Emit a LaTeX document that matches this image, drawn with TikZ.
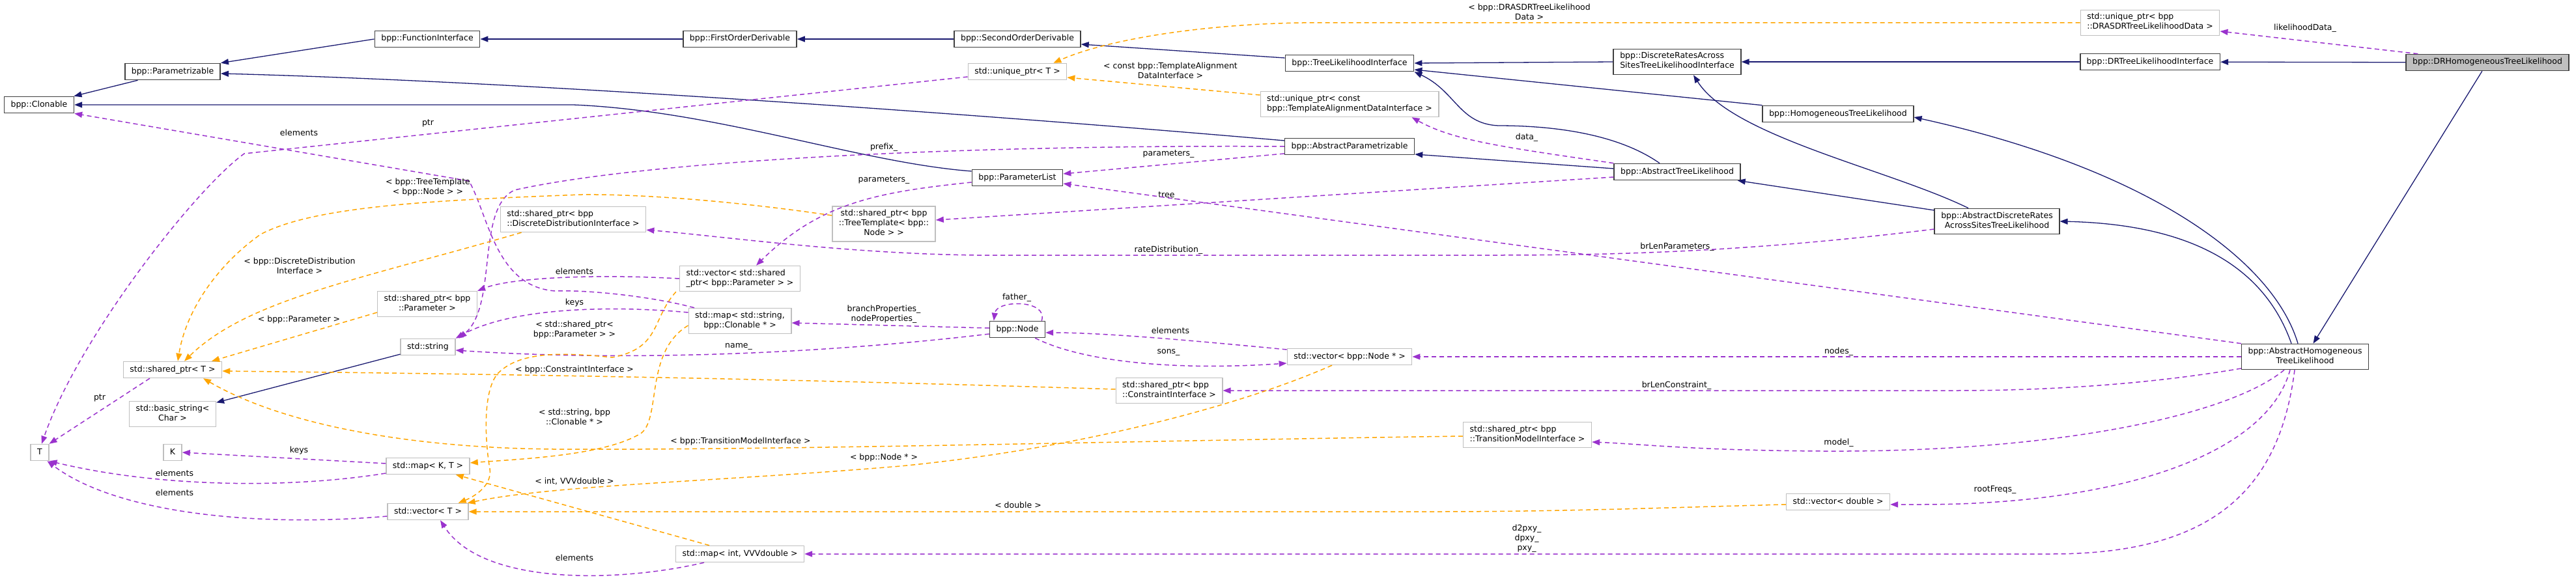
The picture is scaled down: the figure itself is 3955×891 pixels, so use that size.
\documentclass[tikz,border=0pt]{standalone}
\usepackage{fontspec}
\setmainfont{DejaVu Sans}
\usepackage{xcolor}
\usepackage{tikz}
\usetikzlibrary{arrows.meta}
\definecolor{inhcol}{HTML}{191970}
\definecolor{usecol}{HTML}{9A32CD}
\definecolor{tplcol}{HTML}{FFA500}
\definecolor{tplline}{HTML}{BFBFBF}
\definecolor{clsline}{HTML}{404040}
\tikzset{
  cls/.style={rectangle, draw=clsline, line width=1.6pt, fill=white, inner xsep=10pt, inner ysep=5pt, align=center, execute at begin node=\strut, execute at end node=\strut},
  tpl/.style={cls, draw=tplline, line width=1.4pt},
  tplleft/.style={tpl, align=left},
  focus/.style={cls, fill=tplline},
  inherit/.style={-{Triangle[length=12pt, width=9pt]}, draw=inhcol, line width=1.3pt},
  usage/.style={-{Triangle[length=12pt, width=9pt]}, draw=usecol, line width=1.5pt, dash pattern=on 7pt off 5pt},
  tmplarg/.style={usage, draw=tplcol},
  lbl/.style={inner sep=0pt, align=center},
}

\begin{document}
\begin{tikzpicture}[x=1pt, y=-1pt, font=\fontsize{12.5}{15}\selectfont]
    \useasboundingbox (0,0) rectangle (3955,891);
    % classes
    \node[cls] (clonable) at (60,161) {bpp::Clonable};
    \node[cls] (parametrizable) at (265,110) {bpp::Parametrizable};
    \node[cls] (funcif) at (656,60) {bpp::FunctionInterface};
    \node[cls] (firstder) at (1136,60) {bpp::FirstOrderDerivable};
    \node[cls] (secondder) at (1562,60) {bpp::SecondOrderDerivable};
    \node[cls] (tlif) at (2072,97) {bpp::TreeLikelihoodInterface};
    \node[cls] (absparam) at (2072,225) {bpp::AbstractParametrizable};
    \node[cls] (paramlist) at (1562,273) {bpp::ParameterList};
    \node[cls, align=left] (drasif) at (2575,95) {bpp::DiscreteRatesAcross\\SitesTreeLikelihoodInterface};
    \node[cls] (homtl) at (2822,175) {bpp::HomogeneousTreeLikelihood};
    \node[cls] (abstl) at (2575,264) {bpp::AbstractTreeLikelihood};
    \node[cls] (absdras) at (3066,340) {bpp::AbstractDiscreteRates\\AcrossSitesTreeLikelihood};
    \node[cls] (drtlif) at (3301,95) {bpp::DRTreeLikelihoodInterface};
    \node[focus] (drhom) at (3819,96) {bpp::DRHomogeneousTreeLikelihood};
    \node[cls] (abshom) at (3539,548) {bpp::AbstractHomogeneous\\TreeLikelihood};
    \node[cls] (bppnode) at (1562,506) {bpp::Node};
    % templates
    \node[tpl] (uniqT) at (1562,110) {std::unique\_ptr< T >};
    \node[tplleft] (uniqdata) at (2072,160) {std::unique\_ptr< const\\bpp::TemplateAlignmentDataInterface >};
    \node[tplleft] (drasdrptr) at (3301,35) {std::unique\_ptr< bpp\\::DRASDRTreeLikelihoodData >};
    \node[tpl] (treeptr) at (1357,344) {std::shared\_ptr< bpp\\::TreeTemplate< bpp::\\Node > >};
    \node[tplleft] (vecparam) at (1136,428) {std::vector< std::shared\\\_ptr< bpp::Parameter > >};
    \node[tpl] (mapclon) at (1136,493) {std::map< std::string,\\bpp::Clonable * >};
    \node[tplleft] (distptr) at (880,337) {std::shared\_ptr< bpp\\::DiscreteDistributionInterface >};
    \node[tpl] (paramptr) at (656,467) {std::shared\_ptr< bpp\\::Parameter >};
    \node[tpl] (stdstring) at (657,533) {std::string};
    \node[tpl] (sharedT) at (265,568) {std::shared\_ptr< T >};
    \node[tpl] (basicstr) at (265,636) {std::basic\_string<\\Char >};
    \node[tpl] (tT) at (61,695) {T};
    \node[tpl] (kK) at (265,695) {K};
    \node[tpl] (mapKT) at (657,716) {std::map< K, T >};
    \node[tpl] (vecT) at (657,786) {std::vector< T >};
    \node[tpl] (vecnode) at (2072,548) {std::vector< bpp::Node * >};
    \node[tplleft] (constrptr) at (1795,600) {std::shared\_ptr< bpp\\::ConstraintInterface >};
    \node[tpl] (mapint) at (1136,851) {std::map< int, VVVdouble >};
    \node[tplleft] (modelptr) at (2345,668) {std::shared\_ptr< bpp\\::TransitionModelInterface >};
    \node[tpl] (vecdouble) at (2822,771) {std::vector< double >};

    % inheritance
    \draw[inherit] (parametrizable) -- (clonable);
    \draw[inherit] (funcif.west) -- (parametrizable.north east);
    \draw[inherit] (firstder) -- (funcif);
    \draw[inherit] (secondder) -- (firstder);
    \draw[inherit] ([yshift=8pt]tlif.west) -- ([yshift=-8pt]secondder.east);
    \draw[inherit] ([yshift=9pt]absparam.west) .. controls (1500,175) and (800,125) .. ([yshift=-3pt]parametrizable.east);
    \draw[inherit] ([yshift=10pt]paramlist.west) .. controls (1320,250) and (1100,170) .. (880,161) -- (clonable.east);
    \draw[inherit] ([xshift=-27pt]abstl.north) .. controls (2490,210) and (2400,193) .. (2300,193) .. controls (2240,190) and (2235,140) .. (tlif.south east);
    \draw[inherit] ([yshift=5pt]abstl.west) -- ([yshift=-12pt]absparam.east);
    \draw[inherit] (drasif.west) -- (tlif.east);
    \draw[inherit] (homtl.north west) -- ([yshift=-10pt]tlif.east);
    \draw[inherit] ([yshift=17pt]absdras.west) -- ([xshift=-5pt]abstl.south east);
    \draw[inherit] ([xshift=-44pt]absdras.north) .. controls (2900,260) and (2660,210) .. ([xshift=25pt]drasif.south);
    \draw[inherit] ([xshift=-11pt]abshom.north) .. controls (3490,400) and (3300,260) .. ([yshift=-5pt]homtl.east);
    \draw[inherit] ([xshift=-21pt]abshom.north) .. controls (3480,420) and (3380,345) .. (absdras.east);
    \draw[inherit] (drtlif) -- (drasif);
    \draw[inherit] (drhom) -- (drtlif);
    \draw[inherit] (drhom) -- (abshom);
    \draw[inherit] (stdstring) -- (basicstr);

    % members
    \draw[usage] ([xshift=19pt]drhom.north west) -- ([yshift=-13pt]drasdrptr.east) node[lbl] at (3539,43) {likelihoodData\_};
    \draw[usage] (abstl.north west) .. controls (2300,225) and (2230,215) .. ([xshift=-42pt]uniqdata.south east) node[lbl] at (2344,211) {data\_};
    \draw[usage] ([yshift=-8pt]abstl.west) -- ([yshift=6pt]treeptr.east) node[lbl] at (1794,301) {tree\_};
    \draw[usage] ([yshift=-11pt]absparam.west) -- ([yshift=6pt]paramlist.east) node[lbl] at (1794,237) {parameters\_};
    \draw[usage] (absparam.west) .. controls (1500,222) and (1000,245) .. (790,292) .. controls (730,320) and (765,470) .. ([xshift=5pt]stdstring.north east) node[lbl] at (1357,226) {prefix\_};
    \draw[usage] ([yshift=-7pt]paramlist.west) .. controls (1350,295) and (1260,310) .. ([xshift=25pt]vecparam.north) node[lbl] at (1357,277) {parameters\_};
    \draw[usage] (vecparam.west) .. controls (900,420) and (780,428) .. (paramptr.north east) node[lbl] at (882,417) {elements};
    \draw[usage] ([xshift=-70pt]mapclon.north) .. controls (1000,455) and (900,445) .. (852,447) .. controls (760,440) and (750,330) .. (720,278) -- (clonable.south east) node[lbl] at (459,204) {elements};
    \draw[usage] ([yshift=13pt]mapclon.west) .. controls (950,470) and (790,470) .. (stdstring.north east) node[lbl] at (882,465) {keys};
    \draw[usage] ([yshift=2pt]bppnode.west) -- ([yshift=-3pt]mapclon.east) node[lbl] at (1357,483) {branchProperties\_\\nodeProperties\_};
    \draw[usage] ([yshift=-7pt]bppnode.west) .. controls (1250,545) and (950,555) .. ([yshift=-5pt]stdstring.east) node[lbl] at (1134,532) {name\_};
    \draw[usage] ([xshift=-6pt]bppnode.north east) .. controls (1610,460) and (1530,460) .. ([xshift=7pt]bppnode.north west) node[lbl] at (1561,457) {father\_};
    \draw[usage] ([yshift=11pt]vecnode.west) .. controls (1850,525) and (1700,511) .. ([yshift=-5pt]bppnode.east) node[lbl] at (1797,508) {elements};
    \draw[usage] ([xshift=-16pt]bppnode.south east) .. controls (1660,555) and (1800,570) .. ([yshift=-10pt]vecnode.west) node[lbl] at (1794,541) {sons\_};
    \draw[usage] (abshom.west) -- (vecnode.east) node[lbl] at (2823,540) {nodes\_};
    \draw[usage] ([yshift=-18pt]abshom.west) .. controls (3300,590) and (3150,600) .. (3000,600) -- (constrptr.east) node[lbl] at (2574,592) {brLenConstraint\_};
    \draw[usage] ([xshift=-32pt]abshom.south) .. controls (3420,640) and (3150,695) .. (2800,693) .. controls (2600,692) and (2520,682) .. ([yshift=-11pt]modelptr.east) node[lbl] at (2823,680) {model\_};
    \draw[usage] ([xshift=-23pt]abshom.south) .. controls (3480,700) and (3250,775) .. (2950,775) -- ([yshift=-4pt]vecdouble.east) node[lbl] at (3063,752) {rootFreqs\_};
    \draw[usage] ([xshift=-16pt]abshom.south) .. controls (3500,750) and (3400,851) .. (3150,851) -- (mapint.east) node[lbl] at (2344,827) {d2pxy\_\\dpxy\_\\pxy\_};
    \draw[usage] (abshom.north west) -- ([yshift=-9pt]paramlist.east) node[lbl] at (2575,379) {brLenParameters\_};
    \draw[usage] ([yshift=-12pt]absdras.west) .. controls (2700,385) and (2500,392) .. (2300,392) -- (1500,392) .. controls (1300,390) and (1100,362) .. ([yshift=4pt]distptr.south east) node[lbl] at (1794,384) {rateDistribution\_};
    \draw[usage] ([yshift=4pt]mapKT.west) -- (kK.east) node[lbl] at (459,692) {keys};
    \draw[usage] ([yshift=-11pt]mapKT.west) .. controls (450,750) and (250,750) .. (tT.south east) node[lbl] at (268,727) {elements};
    \draw[usage] ([yshift=-7pt]vecT.west) .. controls (400,810) and (180,790) .. ([xshift=-3pt]tT.south east) node[lbl] at (268,757) {elements};
    \draw[usage] ([xshift=-35pt]sharedT.south) -- (tT.north east) node[lbl] at (153,611) {ptr};
    \draw[usage] ([yshift=-8pt]uniqT.west) -- (375,236) .. controls (300,290) and (120,520) .. ([xshift=3pt]tT.north) node[lbl] at (657,189) {ptr};
    \draw[usage] ([xshift=-55pt]mapint.south) .. controls (950,895) and (740,900) .. ([xshift=19pt]vecT.south) node[lbl] at (882,857) {elements};

    % template arguments
    \draw[tmplarg] (drasdrptr.west) -- (2000,35) .. controls (1850,37) and (1700,60) .. ([xshift=-21pt]uniqT.north east) node[lbl] at (2348,18) {< bpp::DRASDRTreeLikelihood\\Data >};
    \draw[tmplarg] ([yshift=14pt]uniqdata.west) -- ([yshift=-9pt]uniqT.east) node[lbl] at (1797,108) {< const bpp::TemplateAlignment\\DataInterface >};
    \draw[tmplarg] ([yshift=13pt]treeptr.west) .. controls (1150,312) and (1000,298) .. (893,299) .. controls (650,308) and (480,318) .. (400,360) .. controls (330,410) and (285,480) .. ([xshift=8pt]sharedT.north) node[lbl] at (657,288) {< bpp::TreeTemplate\\< bpp::Node > >};
    \draw[tmplarg] ([xshift=33pt]distptr.south west) .. controls (550,430) and (380,460) .. ([xshift=18pt]sharedT.north) node[lbl] at (460,408) {< bpp::DiscreteDistribution\\Interface >};
    \draw[tmplarg] ([yshift=-13pt]paramptr.west) -- ([xshift=60pt]sharedT.north) node[lbl] at (459,491) {< bpp::Parameter >};
    \draw[tmplarg] ([yshift=2pt]constrptr.west) .. controls (1300,585) and (900,576) .. ([yshift=-2pt]sharedT.east) node[lbl] at (882,568) {< bpp::ConstraintInterface >};
    \draw[tmplarg] ([yshift=-2pt]modelptr.west) .. controls (1800,676) and (1200,692) .. (850,690) .. controls (620,688) and (430,650) .. ([xshift=47pt]sharedT.south) node[lbl] at (1137,678) {< bpp::TransitionModelInterface >};
    \draw[tmplarg] ([xshift=-5pt]vecparam.south west) .. controls (1000,490) and (1015,535) .. (940,549) .. controls (870,542) and (800,538) .. (765,573) .. controls (740,600) and (745,680) .. (752,720) .. controls (756,745) and (730,762) .. ([xshift=-16pt]vecT.north east) node[lbl] at (882,507) {< std::shared\_ptr<\\bpp::Parameter > >};
    \draw[tmplarg] ([yshift=-7pt]mapclon.west) .. controls (990,540) and (1015,640) .. (985,665) .. controls (930,700) and (800,705) .. ([yshift=5pt]mapKT.east) node[lbl] at (882,640) {< std::string, bpp\\::Clonable * >};
    \draw[tmplarg] ([xshift=-47pt]mapint.north) -- ([xshift=-22pt]mapKT.south east) node[lbl] at (882,739) {< int, VVVdouble >};
    \draw[tmplarg] ([xshift=-27pt]vecnode.south) .. controls (1900,625) and (1650,690) .. (1383,716) .. controls (1100,740) and (850,745) .. ([xshift=-2pt]vecT.north east) node[lbl] at (1357,703) {< bpp::Node * >};
    \draw[tmplarg] ([yshift=-4pt]vecdouble.west) .. controls (2550,780) and (2400,786) .. (2200,786) -- (vecT.east) node[lbl] at (1563,776) {< double >};
  \end{tikzpicture}
\end{document}
